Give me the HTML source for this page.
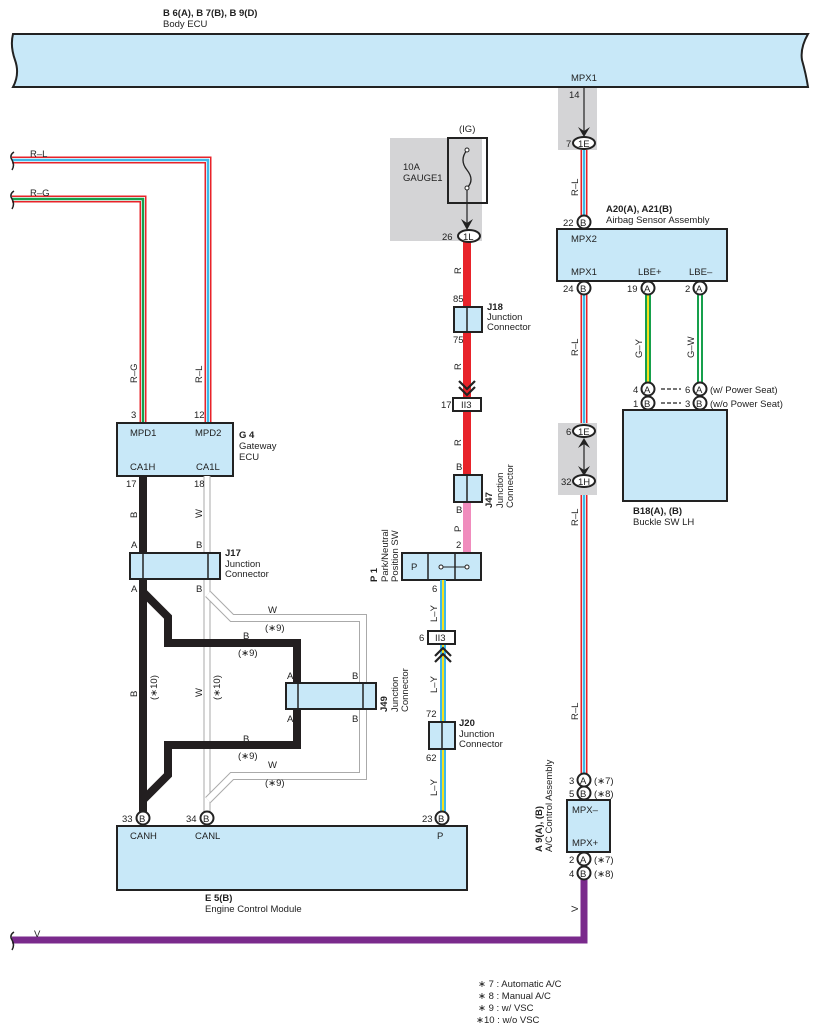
<!DOCTYPE html>
<html><head><meta charset="utf-8"><style>
html,body{margin:0;padding:0;background:#fff;}
svg{display:block;font-family:"Liberation Sans",Arial,sans-serif;}
text{font-size:9.5px;fill:#222;}
.b{font-weight:bold;}
</style></head><body>
<svg width="815" height="1029" viewBox="0 0 815 1029" xmlns="http://www.w3.org/2000/svg">
<defs>
<g id="pc"><circle r="6.5" fill="#fff" stroke="#222" stroke-width="2"/></g>
</defs>
<!-- Body ECU -->
<path d="M13,34 L808,34 Q800,48 802,60 Q806,74 808,87 L13,87 Q20,74 15,60 Q10,46 13,34 Z" fill="#c8e8f8" stroke="#222" stroke-width="2"/>
<text x="163" y="16" class="b">B 6(A), B 7(B), B 9(D)</text>
<text x="163" y="27">Body ECU</text>
<text x="571" y="81">MPX1</text>

<!-- grey areas -->
<rect x="558" y="88" width="39" height="62" fill="#d4d4d6"/>
<rect x="390" y="138" width="92" height="103" fill="#d4d4d6"/>
<rect x="558" y="423" width="39" height="72" fill="#d4d4d6"/>

<!-- left R-L / R-G wires -->
<path d="M12,160 L208,160 L208,423" fill="none" stroke="#e8232a" stroke-width="7"/>
<path d="M12,160 L208,160 L208,423" fill="none" stroke="#fff" stroke-width="4"/>
<path d="M12,160 L208,160 L208,423" fill="none" stroke="#3fb8e8" stroke-width="2.5"/>
<path d="M12,199 L143,199 L143,423" fill="none" stroke="#e8232a" stroke-width="7"/>
<path d="M12,199 L143,199 L143,423" fill="none" stroke="#fff" stroke-width="4"/>
<path d="M12,199 L143,199 L143,423" fill="none" stroke="#16a04c" stroke-width="2.5"/>
<path d="M14,152 Q9,155 12,160 Q15,165 12,170" fill="none" stroke="#222" stroke-width="1.5"/>
<path d="M14,191 Q9,194 12,199 Q15,204 12,209" fill="none" stroke="#222" stroke-width="1.5"/>
<text x="30" y="157">R–L</text>
<text x="30" y="196">R–G</text>
<text transform="translate(137,383) rotate(-90)">R–G</text>
<text transform="translate(202,383) rotate(-90)">R–L</text>
<text x="131" y="418">3</text><text x="194" y="418">12</text>

<!-- G4 -->
<rect x="117" y="423" width="116" height="53" fill="#c8e8f8" stroke="#222" stroke-width="2"/>
<text x="130" y="436">MPD1</text><text x="195" y="436">MPD2</text>
<text x="130" y="470">CA1H</text><text x="196" y="470">CA1L</text>
<text x="239" y="438" class="b">G 4</text><text x="239" y="449">Gateway</text><text x="239" y="460">ECU</text>

<!-- white wires -->
<g fill="none" stroke-linejoin="miter">
<path d="M207,476 L207,818" stroke="#aaa" stroke-width="7"/>
<path d="M207,476 L207,818" stroke="#fff" stroke-width="5"/>
<path d="M208,594 L232,618 L363,618 L363,776 L232,776 L208,800" stroke="#aaa" stroke-width="8"/>
<path d="M208,594 L232,618 L363,618 L363,776 L232,776 L208,800" stroke="#fff" stroke-width="6"/>
<!-- black -->
<path d="M143,476 L143,818" stroke="#231f20" stroke-width="8"/>
<path d="M143,592 L168,617 L168,643 L297,643 L297,745 L168,745 L168,775 L143,800" stroke="#231f20" stroke-width="8"/>
</g>
<text x="133" y="520" transform="rotate(-90 133 520)"></text>
<text transform="translate(137,518) rotate(-90)">B</text>
<text transform="translate(202,518) rotate(-90)">W</text>
<text transform="translate(137,697) rotate(-90)">B</text>
<text transform="translate(157,700) rotate(-90)">(∗10)</text>
<text transform="translate(202,697) rotate(-90)">W</text>
<text transform="translate(220,700) rotate(-90)">(∗10)</text>
<text x="126" y="487">17</text><text x="194" y="487">18</text>
<text x="131" y="548">A</text><text x="196" y="548">B</text>
<text x="131" y="592">A</text><text x="196" y="592">B</text>
<!-- J17 -->
<rect x="130" y="553" width="90" height="26" fill="#c8e8f8" stroke="#222" stroke-width="2"/>
<line x1="143" y1="553" x2="143" y2="579" stroke="#222" stroke-width="1.5"/>
<line x1="208" y1="553" x2="208" y2="579" stroke="#222" stroke-width="1.5"/>
<text x="225" y="556" class="b">J17</text><text x="225" y="567">Junction</text><text x="225" y="577">Connector</text>
<text x="268" y="613">W</text><text x="265" y="631">(∗9)</text>
<text x="243" y="639">B</text><text x="238" y="656">(∗9)</text>
<text x="243" y="742">B</text><text x="238" y="759">(∗9)</text>
<text x="268" y="768">W</text><text x="265" y="786">(∗9)</text>
<!-- J49 -->
<rect x="286" y="683" width="90" height="26" fill="#c8e8f8" stroke="#222" stroke-width="2"/>
<line x1="298" y1="683" x2="298" y2="709" stroke="#222" stroke-width="1.5"/>
<line x1="363" y1="683" x2="363" y2="709" stroke="#222" stroke-width="1.5"/>
<text x="287" y="679">A</text><text x="352" y="679">B</text>
<text x="287" y="722">A</text><text x="352" y="722">B</text>
<text transform="translate(387,712) rotate(-90)" class="b">J49</text>
<text transform="translate(398,712) rotate(-90)">Junction</text>
<text transform="translate(408,712) rotate(-90)">Connector</text>

<!-- fuse -->
<rect x="448" y="138" width="39" height="65" fill="none" stroke="#222" stroke-width="2"/>
<path d="M467,150 Q459,160 467,170 Q475,180 467,188" fill="none" stroke="#222" stroke-width="1.3"/>
<circle cx="467" cy="150" r="2" fill="#fff" stroke="#222"/><circle cx="467" cy="188" r="2" fill="#fff" stroke="#222"/>
<line x1="467" y1="190" x2="467" y2="228" stroke="#222" stroke-width="1.2"/>
<path d="M461,219 L467,230 L473,219 L467,223 Z" fill="#222"/>
<text x="459" y="132">(IG)</text>
<text x="403" y="170">10A</text><text x="403" y="181">GAUGE1</text>
<!-- red wire -->
<line x1="467" y1="242" x2="467" y2="475" stroke="#e8232a" stroke-width="8"/>
<line x1="467" y1="502" x2="467" y2="553" stroke="#f08cbd" stroke-width="8"/>
<ellipse cx="469" cy="236" rx="11" ry="6" fill="#fff" stroke="#222" stroke-width="2"/>
<text x="463" y="240">1L</text><text x="442" y="240">26</text>
<text transform="translate(461,274) rotate(-90)">R</text>
<text transform="translate(461,370) rotate(-90)">R</text>
<text transform="translate(461,446) rotate(-90)">R</text>
<text transform="translate(461,532) rotate(-90)">P</text>
<rect x="454" y="307" width="28" height="25" fill="#c8e8f8" stroke="#222" stroke-width="2"/>
<line x1="467" y1="307" x2="467" y2="332" stroke="#222" stroke-width="1.5"/>
<text x="453" y="302">85</text><text x="453" y="343">75</text>
<text x="487" y="310" class="b">J18</text><text x="487" y="320">Junction</text><text x="487" y="330">Connector</text>
<path d="M459,381 L467,389 L475,381 M459,387 L467,395 L475,387" fill="none" stroke="#222" stroke-width="2.2"/>
<rect x="453" y="398" width="28" height="13" fill="#fff" stroke="#222" stroke-width="2"/>
<text x="461" y="408">II3</text><text x="441" y="408">17</text>
<rect x="454" y="475" width="28" height="27" fill="#c8e8f8" stroke="#222" stroke-width="2"/>
<line x1="467" y1="475" x2="467" y2="502" stroke="#222" stroke-width="1.5"/>
<text x="456" y="470">B</text><text x="456" y="513">B</text><text x="456" y="548">2</text>
<text transform="translate(492,508) rotate(-90)" class="b">J47</text>
<text transform="translate(503,508) rotate(-90)">Junction</text>
<text transform="translate(513,508) rotate(-90)">Connector</text>
<!-- P1 -->
<rect x="402" y="553" width="79" height="27" fill="#c8e8f8" stroke="#222" stroke-width="2"/>
<line x1="428" y1="553" x2="428" y2="580" stroke="#222" stroke-width="1.5"/>
<line x1="455" y1="553" x2="455" y2="580" stroke="#222" stroke-width="1.5"/>
<text x="411" y="570">P</text>
<line x1="441" y1="567" x2="467" y2="567" stroke="#222"/>
<circle cx="441" cy="567" r="2" fill="#fff" stroke="#222"/><circle cx="467" cy="567" r="2" fill="#fff" stroke="#222"/>
<text transform="translate(377,582) rotate(-90)" class="b">P 1</text>
<text transform="translate(388,582) rotate(-90)">Park/Neutral</text>
<text transform="translate(398,582) rotate(-90)">Position SW</text>
<!-- L-Y -->
<g stroke-width="1">
<line x1="443" y1="580" x2="443" y2="631" stroke="#3fb8e8" stroke-width="6"/>
<line x1="443" y1="580" x2="443" y2="631" stroke="#f5e11e" stroke-width="2"/>
<line x1="443" y1="644" x2="443" y2="812" stroke="#3fb8e8" stroke-width="6"/>
<line x1="443" y1="644" x2="443" y2="812" stroke="#f5e11e" stroke-width="2"/>
</g>
<text x="432" y="592">6</text>
<text transform="translate(437,622) rotate(-90)">L–Y</text>
<rect x="428" y="631" width="27" height="13" fill="#fff" stroke="#222" stroke-width="2"/>
<text x="435" y="641">II3</text><text x="419" y="641">6</text>
<path d="M435,656 L443,648 L451,656 M435,662 L443,654 L451,662" fill="none" stroke="#222" stroke-width="2.2"/>
<text transform="translate(437,693) rotate(-90)">L–Y</text>
<rect x="429" y="722" width="26" height="27" fill="#c8e8f8" stroke="#222" stroke-width="2"/>
<line x1="442" y1="722" x2="442" y2="749" stroke="#222" stroke-width="1.5"/>
<text x="426" y="717">72</text><text x="426" y="761">62</text>
<text x="459" y="726" class="b">J20</text><text x="459" y="737">Junction</text><text x="459" y="747">Connector</text>
<text transform="translate(437,796) rotate(-90)">L–Y</text>

<!-- E5 -->
<rect x="117" y="826" width="350" height="64" fill="#c8e8f8" stroke="#222" stroke-width="2"/>
<text x="130" y="839">CANH</text><text x="195" y="839">CANL</text><text x="437" y="839">P</text>
<use href="#pc" x="143" y="818"/><text x="139" y="822">B</text><text x="122" y="822">33</text>
<use href="#pc" x="207" y="818"/><text x="203" y="822">B</text><text x="186" y="822">34</text>
<use href="#pc" x="442" y="818"/><text x="438" y="822">B</text><text x="422" y="822">23</text>
<text x="205" y="901" class="b">E 5(B)</text><text x="205" y="912">Engine Control Module</text>

<!-- right R-L -->
<line x1="584" y1="88" x2="584" y2="135" stroke="#222" stroke-width="1.2"/>
<path d="M578,127 L584,137 L590,127 L584,131 Z" fill="#222"/>
<text x="569" y="98">14</text>
<g>
<line x1="584" y1="150" x2="584" y2="217" stroke="#e8232a" stroke-width="7"/>
<line x1="584" y1="150" x2="584" y2="217" stroke="#fff" stroke-width="4"/>
<line x1="584" y1="150" x2="584" y2="217" stroke="#3fb8e8" stroke-width="2.5"/>
<line x1="584" y1="294" x2="584" y2="774" stroke="#e8232a" stroke-width="7"/>
<line x1="584" y1="294" x2="584" y2="774" stroke="#fff" stroke-width="4"/>
<line x1="584" y1="294" x2="584" y2="774" stroke="#3fb8e8" stroke-width="2.5"/>
</g>
<rect x="558" y="423" width="39" height="72" fill="#d4d4d6"/>
<line x1="584" y1="440" x2="584" y2="475" stroke="#222" stroke-width="1.2"/>
<path d="M578,448 L584,438 L590,448 L584,444 Z" fill="#222"/>
<path d="M578,466 L584,476 L590,466 L584,470 Z" fill="#222"/>
<ellipse cx="584" cy="143" rx="11" ry="6" fill="#fff" stroke="#222" stroke-width="2"/><text x="578" y="147">1E</text><text x="566" y="147">7</text>
<ellipse cx="584" cy="431" rx="11" ry="6" fill="#fff" stroke="#222" stroke-width="2"/><text x="578" y="435">1E</text><text x="566" y="435">6</text>
<ellipse cx="584" cy="481" rx="11" ry="6" fill="#fff" stroke="#222" stroke-width="2"/><text x="578" y="485">1H</text><text x="561" y="485">32</text>
<text transform="translate(578,196) rotate(-90)">R–L</text>
<text transform="translate(578,356) rotate(-90)">R–L</text>
<text transform="translate(578,526) rotate(-90)">R–L</text>
<text transform="translate(578,720) rotate(-90)">R–L</text>
<use href="#pc" x="584" y="222"/><text x="580" y="226">B</text><text x="563" y="226">22</text>
<text x="606" y="212" class="b">A20(A), A21(B)</text><text x="606" y="223">Airbag Sensor Assembly</text>
<rect x="557" y="229" width="170" height="52" fill="#c8e8f8" stroke="#222" stroke-width="2"/>
<text x="571" y="242">MPX2</text><text x="571" y="275">MPX1</text><text x="638" y="275">LBE+</text><text x="689" y="275">LBE–</text>
<!-- G-Y G-W -->
<line x1="648" y1="294" x2="648" y2="383" stroke="#16a04c" stroke-width="6"/>
<line x1="648" y1="294" x2="648" y2="383" stroke="#f5e11e" stroke-width="2"/>
<line x1="700" y1="294" x2="700" y2="383" stroke="#16a04c" stroke-width="6"/>
<line x1="700" y1="294" x2="700" y2="383" stroke="#fff" stroke-width="2"/>
<text transform="translate(642,358) rotate(-90)">G–Y</text>
<text transform="translate(694,358) rotate(-90)">G–W</text>
<use href="#pc" x="584" y="288"/><text x="580" y="292">B</text><text x="563" y="292">24</text>
<use href="#pc" x="648" y="288"/><text x="644" y="292">A</text><text x="627" y="292">19</text>
<use href="#pc" x="700" y="288"/><text x="696" y="292">A</text><text x="685" y="292">2</text>
<use href="#pc" x="648" y="389"/><text x="644" y="393">A</text><text x="633" y="393">4</text>
<use href="#pc" x="648" y="403"/><text x="644" y="407">B</text><text x="633" y="407">1</text>
<use href="#pc" x="700" y="389"/><text x="696" y="393">A</text><text x="685" y="393">6</text>
<use href="#pc" x="700" y="403"/><text x="696" y="407">B</text><text x="685" y="407">3</text>
<line x1="661" y1="389" x2="681" y2="389" stroke="#222" stroke-width="1.3" stroke-dasharray="4,2"/>
<line x1="661" y1="403" x2="681" y2="403" stroke="#222" stroke-width="1.3" stroke-dasharray="4,2"/>
<text x="710" y="393">(w/ Power Seat)</text><text x="710" y="407">(w/o Power Seat)</text>
<rect x="623" y="410" width="104" height="91" fill="#c8e8f8" stroke="#222" stroke-width="2"/>
<text x="633" y="514" class="b">B18(A), (B)</text><text x="633" y="525">Buckle SW LH</text>

<!-- A9 -->
<polyline points="584,878 584,940 12,940" fill="none" stroke="#7a2a8c" stroke-width="7"/>
<path d="M14,932 Q9,935 12,940 Q15,945 12,950" fill="none" stroke="#222" stroke-width="1.5"/>
<text x="34" y="937">V</text>
<text transform="translate(578,912) rotate(-90)">V</text>
<use href="#pc" x="584" y="780"/><text x="580" y="784">A</text><text x="569" y="784">3</text><text x="594" y="784">(∗7)</text>
<use href="#pc" x="584" y="793"/><text x="580" y="797">B</text><text x="569" y="797">5</text><text x="594" y="797">(∗8)</text>
<rect x="567" y="800" width="43" height="52" fill="#c8e8f8" stroke="#222" stroke-width="2"/>
<text x="572" y="813">MPX–</text><text x="572" y="846">MPX+</text>
<use href="#pc" x="584" y="859"/><text x="580" y="863">A</text><text x="569" y="863">2</text><text x="594" y="863">(∗7)</text>
<use href="#pc" x="584" y="873"/><text x="580" y="877">B</text><text x="569" y="877">4</text><text x="594" y="877">(∗8)</text>
<text transform="translate(542,852) rotate(-90)" class="b">A 9(A), (B)</text>
<text transform="translate(552,852) rotate(-90)">A/C Control Assembly</text>

<!-- footnotes -->
<text x="478" y="987">∗ 7 : Automatic A/C</text>
<text x="478" y="999">∗ 8 : Manual A/C</text>
<text x="478" y="1011">∗ 9 : w/ VSC</text>
<text x="476" y="1023">∗10 : w/o VSC</text>
</svg>
</body></html>
